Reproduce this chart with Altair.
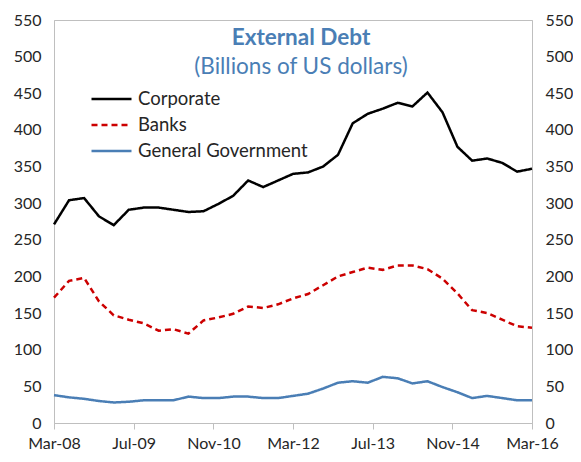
import altair as alt
import pandas as pd

quarters = pd.date_range("2008-03-01", "2016-03-01", freq="3MS").strftime("%Y-%m-%d").tolist()

corporate = [271, 304, 307, 282, 270, 291, 294, 294, 291, 288, 289, 299, 310, 331, 322, 331,
             340, 342, 350, 366, 409, 422, 429, 437, 432, 451, 424, 377, 358, 361, 355, 343, 347]
banks = [171, 194, 198, 166, 147, 141, 136, 126, 128, 122, 140, 144, 149, 159, 157, 162,
         170, 176, 188, 200, 206, 212, 209, 215, 215, 210, 197, 177, 154, 150, 141, 132, 130]
government = [38, 35, 33, 30, 28, 29, 31, 31, 31, 36, 34, 34, 36, 36, 34, 34,
              37, 40, 47, 55, 57, 55, 63, 61, 54, 57, 49, 42, 34, 37, 34, 31, 31]

series_names = ["Corporate", "Banks", "General Government"]
series_colors = ["#000000", "#CC0000", "#4A7EB5"]
series_dash = [[1, 0], [6, 4], [1, 0]]
tick_dates = [(2008, 3), (2009, 7), (2010, 11), (2012, 3), (2013, 7), (2014, 11), (2016, 3)]
y_ticks = list(range(0, 551, 50))

rows = []
for name, vals in zip(series_names, [corporate, banks, government]):
    for d, v in zip(quarters, vals):
        rows.append({"date": d, "value": v, "series": name})
df = pd.DataFrame(rows)

FONT = "Lato"
GRAY = "#BFBFBF"
TXT = "#262626"

legend_params = dict(
    orient="none", legendX=36, legendY=67, title=None,
    symbolType="stroke", symbolSize=1600, symbolStrokeWidth=2.5,
    labelFontSize=18.5, labelFont=FONT, labelColor=TXT, rowPadding=2, labelOffset=5,
    labelLimit=400, clipHeight=24,
)

x_axis = alt.Axis(
    values=[alt.DateTime(year=y, month=m, date=1, utc=True) for y, m in tick_dates],
    labelExpr="utcFormat(datum.value, '%b-%y')", title=None, grid=False,
    domainColor=GRAY, tickColor=GRAY, tickSize=6, labelPadding=6,
    labelFont=FONT, labelFontSize=16, labelColor=TXT, labelFlush=False,
)
x_scale = alt.Scale(type="utc", domain=[alt.DateTime(year=2008, month=3, date=1, utc=True),
                                        alt.DateTime(year=2016, month=3, date=1, utc=True)])

def y_axis(orient, pad):
    return alt.Axis(
        orient=orient, values=y_ticks, title=None, grid=False, ticks=False,
        domainColor=GRAY, labelPadding=pad, labelFont=FONT, labelFontSize=16,
        labelColor=TXT,
    )

lines = alt.Chart(df).mark_line(strokeWidth=2.5).encode(
    x=alt.X("date:T", scale=x_scale, axis=x_axis),
    y=alt.Y("value:Q", scale=alt.Scale(domain=[0, 550]), axis=y_axis("left", 13)),
    color=alt.Color("series:N", scale=alt.Scale(domain=series_names, range=series_colors),
                    legend=alt.Legend(**legend_params)),
    strokeDash=alt.StrokeDash("series:N", scale=alt.Scale(domain=series_names, range=series_dash),
                              legend=alt.Legend(**legend_params)),
    order=alt.Order("date:T"),
)

right_axis = alt.Chart(df).mark_line(opacity=0).encode(
    x=alt.X("date:T", scale=x_scale, axis=x_axis),
    y=alt.Y("value:Q", scale=alt.Scale(domain=[0, 550]), axis=y_axis("right", 13)),
    detail="series:N",
)

title_df = pd.DataFrame({"t": ["External Debt"]})
sub_df = pd.DataFrame({"t": ["(Billions of US dollars)"]})
title = alt.Chart(title_df).mark_text(
    font=FONT, fontSize=22.5, fontWeight="bold", color="#4A7EB5", baseline="alphabetic", align="center"
).encode(text="t:N", x=alt.value(247), y=alt.value(25))
sub = alt.Chart(sub_df).mark_text(
    font=FONT, fontSize=22.5, color="#4A7EB5", baseline="alphabetic", align="center"
).encode(text="t:N", x=alt.value(247), y=alt.value(54))

chart = alt.layer(lines, right_axis, title, sub).resolve_axis(y="independent").properties(
    width=478, height=403,
    autosize=alt.AutoSizeParams(type="none"),
    padding={"left": 46, "top": 12, "right": 41, "bottom": 31},
).configure_view(stroke=GRAY, strokeWidth=1)

chart.save("out.html", embed_options={"renderer": "svg", "actions": False})
